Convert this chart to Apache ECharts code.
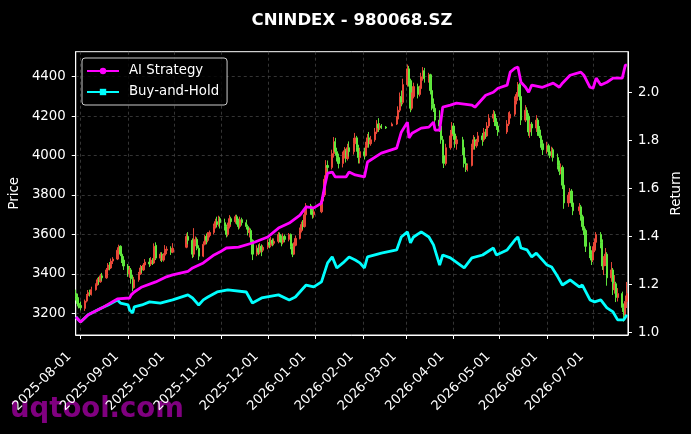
<!DOCTYPE html>
<html>
<head>
<meta charset="utf-8">
<script src="https://cdn.jsdelivr.net/npm/echarts@6/dist/echarts.min.js"></script>
<style>
html,body{margin:0;padding:0;background:#000;}
#chart{width:691px;height:434px;}
</style>
</head>
<body>
<div id="chart"></div>
<script>
// ---- DATA ----
const titleText = 'CNINDEX - 980068.SZ';
// [date, open, close, low, high]
const candles = [
['2025-07-29',3300,3280,3265,3320],['2025-07-30',3280,3250,3235,3300],['2025-07-31',3250,3240,3225,3270],['2025-08-01',3240,3228,3215,3260],
['2025-08-04',3225,3262,3212,3270],['2025-08-05',3262,3290,3255,3298],['2025-08-06',3290,3305,3280,3318],['2025-08-07',3305,3296,3285,3320],['2025-08-08',3296,3320,3290,3335],
['2025-08-11',3320,3345,3315,3352],['2025-08-12',3345,3370,3340,3380],['2025-08-13',3370,3360,3345,3385],['2025-08-14',3360,3390,3355,3400],['2025-08-15',3390,3380,3365,3405],
['2025-08-18',3380,3420,3375,3430],['2025-08-19',3420,3445,3410,3455],['2025-08-20',3445,3430,3418,3460],['2025-08-21',3430,3465,3425,3478],['2025-08-22',3465,3475,3450,3485],
['2025-08-25',3475,3520,3470,3535],['2025-08-26',3520,3540,3505,3548],['2025-08-27',3540,3500,3490,3545],['2025-08-28',3500,3470,3455,3510],['2025-08-29',3470,3440,3420,3490],
['2025-09-01',3440,3400,3385,3450],['2025-09-02',3400,3420,3380,3440],['2025-09-03',3420,3375,3350,3430],['2025-09-04',3375,3330,3312,3395],['2025-09-05',3330,3370,3325,3385],
['2025-09-08',3370,3400,3360,3410],['2025-09-09',3400,3430,3395,3445],['2025-09-10',3430,3420,3405,3440],['2025-09-11',3420,3445,3415,3455],['2025-09-12',3445,3460,3435,3475],
['2025-09-15',3460,3450,3435,3480],['2025-09-16',3450,3470,3440,3485],['2025-09-17',3470,3455,3445,3480],['2025-09-18',3455,3540,3450,3555],['2025-09-19',3545,3480,3470,3560],
['2025-09-22',3480,3500,3465,3510],['2025-09-23',3500,3470,3460,3510],['2025-09-24',3470,3495,3462,3505],['2025-09-25',3495,3520,3485,3546],['2025-09-26',3520,3525,3500,3540],
['2025-09-29',3525,3510,3496,3540],['2025-09-30',3510,3530,3505,3556],
['2025-10-09',3535,3590,3530,3605],['2025-10-10',3590,3570,3550,3612],
['2025-10-13',3570,3500,3480,3580],['2025-10-14',3500,3560,3485,3632],['2025-10-15',3560,3575,3540,3590],['2025-10-16',3575,3530,3520,3585],['2025-10-17',3530,3490,3470,3545],
['2025-10-20',3490,3550,3485,3565],['2025-10-21',3550,3590,3545,3597],['2025-10-22',3590,3570,3550,3605],['2025-10-23',3570,3595,3560,3612],['2025-10-24',3595,3610,3585,3620],
['2025-10-27',3610,3640,3600,3655],['2025-10-28',3640,3665,3630,3680],['2025-10-29',3665,3650,3635,3690],['2025-10-30',3650,3680,3640,3695],['2025-10-31',3680,3660,3630,3690],
['2025-11-03',3660,3640,3620,3680],['2025-11-04',3640,3600,3585,3650],['2025-11-05',3600,3640,3590,3660],['2025-11-06',3640,3680,3630,3698],['2025-11-07',3680,3665,3650,3690],
['2025-11-10',3665,3690,3655,3700],['2025-11-11',3690,3670,3650,3700],['2025-11-12',3670,3640,3625,3680],['2025-11-13',3640,3675,3630,3690],['2025-11-14',3675,3660,3645,3685],
['2025-11-17',3660,3640,3625,3675],['2025-11-18',3640,3610,3595,3650],['2025-11-19',3610,3620,3585,3635],['2025-11-20',3620,3570,3560,3630],['2025-11-21',3570,3500,3470,3575],
['2025-11-24',3500,3530,3490,3545],['2025-11-25',3530,3510,3495,3550],['2025-11-26',3510,3540,3500,3556],['2025-11-27',3540,3520,3490,3550],['2025-11-28',3520,3535,3510,3545],
['2025-12-01',3535,3560,3525,3575],['2025-12-02',3560,3545,3530,3580],['2025-12-03',3545,3570,3535,3587],['2025-12-04',3570,3555,3540,3580],['2025-12-05',3555,3565,3545,3580],
['2025-12-08',3565,3600,3555,3612],['2025-12-09',3600,3580,3560,3610],['2025-12-10',3580,3560,3540,3595],['2025-12-11',3560,3590,3550,3605],['2025-12-12',3590,3575,3560,3600],
['2025-12-15',3575,3600,3565,3607],['2025-12-16',3600,3540,3525,3605],['2025-12-17',3540,3500,3485,3555],['2025-12-18',3500,3545,3495,3560],['2025-12-19',3545,3580,3540,3595],
['2025-12-22',3580,3620,3575,3635],['2025-12-23',3620,3650,3610,3665],['2025-12-24',3650,3640,3625,3673],['2025-12-25',3640,3700,3635,3720],['2025-12-26',3700,3745,3690,3759],
['2025-12-29',3745,3720,3700,3755],['2025-12-30',3720,3700,3680,3739],['2025-12-31',3700,3715,3685,3730],
['2026-01-05',3715,3770,3708,3790],['2026-01-06',3770,3800,3755,3815],['2026-01-07',3800,3880,3790,3900],['2026-01-08',3880,3950,3860,3977],['2026-01-09',3950,3940,3910,3975],
['2026-01-12',3940,4010,3930,4030],['2026-01-13',4010,4070,3990,4094],['2026-01-14',4070,4020,4000,4090],['2026-01-15',4020,3990,3970,4040],['2026-01-16',3990,3960,3935,4010],
['2026-01-19',3960,4000,3940,4020],['2026-01-20',4000,4025,3985,4043],['2026-01-21',4025,3985,3965,4035],['2026-01-22',3985,4040,3975,4060],['2026-01-23',4040,4020,3995,4072],
['2026-01-26',4020,4060,4005,4090],['2026-01-27',4060,4090,4050,4115],['2026-01-28',4090,4040,4020,4100],['2026-01-29',4040,3990,3960,4055],['2026-01-30',3990,4020,3960,4040],
['2026-02-02',4020,4000,3980,4040],['2026-02-03',4000,4050,3995,4070],['2026-02-04',4050,4090,4040,4110],['2026-02-05',4090,4060,4040,4120],['2026-02-06',4060,4080,4050,4100],
['2026-02-09',4080,4120,4070,4140],['2026-02-10',4120,4160,4110,4180],['2026-02-11',4160,4140,4120,4190],['2026-02-12',4140,4150,4130,4165],['2026-02-13',4150,4145,4135,4160],
['2026-02-16',4145,4140,4135,4150],['2026-02-20',4150,4160,4150,4168],['2026-02-23',4160,4185,4155,4200],
['2026-02-24',4185,4230,4180,4250],['2026-02-25',4230,4300,4220,4320],['2026-02-26',4300,4270,4250,4330],['2026-02-27',4270,4360,4260,4390],
['2026-03-02',4360,4440,4350,4462],['2026-03-03',4440,4380,4350,4455],['2026-03-04',4380,4240,4220,4390],['2026-03-05',4240,4300,4230,4320],['2026-03-06',4300,4350,4290,4370],
['2026-03-09',4350,4310,4290,4365],['2026-03-10',4310,4340,4300,4355],['2026-03-11',4340,4400,4330,4420],['2026-03-12',4400,4430,4380,4449],['2026-03-13',4430,4390,4370,4445],
['2026-03-16',4390,4410,4370,4420],['2026-03-17',4410,4330,4310,4415],['2026-03-18',4330,4260,4230,4345],['2026-03-19',4260,4240,4221,4290],['2026-03-20',4240,4180,4160,4260],
['2026-03-23',4180,4150,4120,4230],['2026-03-24',4150,4080,4060,4160],['2026-03-25',4080,4000,3960,4100],['2026-03-26',4000,3960,3937,4050],['2026-03-27',3960,4040,3950,4060],
['2026-03-30',4040,4100,4030,4130],['2026-03-31',4100,4150,4080,4170],['2026-04-01',4150,4110,4080,4165],['2026-04-02',4110,4060,4040,4120],['2026-04-03',4060,4080,4030,4100],
['2026-04-07',4080,4040,4003,4095],['2026-04-08',4040,3960,3940,4060],['2026-04-09',3960,3930,3917,3990],['2026-04-10',3930,3950,3920,3960],
['2026-04-13',3950,4040,3945,4060],['2026-04-14',4040,4080,4030,4104],['2026-04-15',4080,4050,4030,4095],['2026-04-16',4050,4070,4040,4085],['2026-04-17',4070,4100,4060,4120],
['2026-04-20',4100,4080,4050,4115],['2026-04-21',4080,4120,4070,4140],['2026-04-22',4120,4100,4085,4135],['2026-04-23',4100,4150,4095,4170],['2026-04-24',4150,4190,4140,4210],
['2026-04-27',4190,4210,4170,4231],['2026-04-28',4210,4170,4150,4225],['2026-04-29',4170,4150,4130,4190],['2026-04-30',4150,4120,4100,4170],
['2026-05-06',4120,4160,4110,4180],['2026-05-07',4160,4190,4150,4220],['2026-05-08',4190,4210,4180,4225],
['2026-05-11',4210,4280,4200,4300],['2026-05-12',4280,4310,4260,4322],['2026-05-13',4310,4350,4290,4373],['2026-05-14',4360,4300,4280,4370],['2026-05-15',4300,4180,4155,4310],
['2026-05-18',4180,4230,4170,4256],['2026-05-19',4230,4200,4180,4245],['2026-05-20',4200,4120,4100,4215],['2026-05-21',4120,4160,4090,4180],['2026-05-22',4160,4140,4100,4170],
['2026-05-25',4140,4180,4120,4205],['2026-05-26',4180,4130,4100,4190],['2026-05-27',4130,4100,4089,4150],['2026-05-28',4100,4060,4040,4120],['2026-05-29',4060,4030,4003,4080],
['2026-06-01',4030,4050,4010,4070],['2026-06-02',4050,4020,4000,4060],['2026-06-03',4020,4000,3987,4040],['2026-06-04',4000,4030,3990,4045],['2026-06-05',4030,3990,3970,4040],
['2026-06-08',3990,3950,3930,4010],['2026-06-09',3950,3920,3901,3975],['2026-06-10',3920,3940,3905,3960],['2026-06-11',3940,3850,3830,3950],['2026-06-12',3850,3760,3730,3870],
['2026-06-15',3760,3800,3740,3815],['2026-06-16',3800,3820,3780,3835],['2026-06-17',3820,3760,3740,3830],['2026-06-18',3760,3720,3698,3780],
['2026-06-22',3720,3740,3700,3759],['2026-06-23',3740,3690,3670,3750],['2026-06-24',3690,3640,3620,3700],['2026-06-25',3640,3620,3597,3660],['2026-06-26',3620,3540,3511,3630],
['2026-06-29',3540,3500,3480,3560],['2026-06-30',3500,3470,3445,3520],['2026-07-01',3470,3520,3460,3540],['2026-07-02',3520,3560,3510,3580],['2026-07-03',3560,3600,3540,3612],
['2026-07-06',3600,3560,3530,3612],['2026-07-07',3560,3440,3420,3575],['2026-07-08',3440,3470,3394,3490],['2026-07-09',3470,3500,3440,3531],['2026-07-10',3500,3380,3340,3510],
['2026-07-13',3380,3420,3360,3460],['2026-07-14',3420,3320,3293,3430],['2026-07-15',3320,3350,3300,3394],['2026-07-16',3350,3280,3257,3360],['2026-07-17',3280,3300,3260,3328],
['2026-07-20',3300,3230,3207,3310],['2026-07-21',3230,3190,3158,3250],['2026-07-22',3190,3260,3180,3290],['2026-07-23',3260,3300,3227,3359]
];
const aiStrategy = [
['2025-07-29',1.065],['2025-08-01',1.044],['2025-08-06',1.074],['2025-08-15',1.103],['2025-08-25',1.14],['2025-09-02',1.144],['2025-09-03',1.157],['2025-09-05',1.169],
['2025-09-10',1.19],['2025-09-19',1.211],['2025-09-26',1.232],['2025-09-30',1.24],['2025-10-10',1.255],['2025-10-13',1.269],['2025-10-20',1.29],['2025-10-27',1.323],
['2025-10-31',1.336],['2025-11-04',1.352],['2025-11-12',1.356],['2025-11-21',1.373],['2025-12-01',1.398],['2025-12-08',1.435],['2025-12-15',1.456],['2025-12-22',1.489],
['2025-12-26',1.523],['2025-12-31',1.519],['2026-01-05',1.539],['2026-01-07',1.606],['2026-01-09',1.664],['2026-01-12',1.668],['2026-01-14',1.648],['2026-01-21',1.648],
['2026-01-23',1.668],['2026-01-27',1.656],['2026-02-02',1.648],['2026-02-04',1.71],['2026-02-13',1.747],['2026-02-23',1.768],['2026-02-26',1.834],['2026-03-02',1.876],
['2026-03-03',1.81],['2026-03-05',1.83],['2026-03-11',1.851],['2026-03-16',1.855],['2026-03-19',1.876],['2026-03-20',1.843],['2026-03-23',1.843],['2026-03-25',1.938],
['2026-03-30',1.947],['2026-04-03',1.955],['2026-04-13',1.947],['2026-04-15',1.938],['2026-04-22',1.988],['2026-04-27',2.0],['2026-04-30',2.017],['2026-05-06',2.03],
['2026-05-08',2.084],['2026-05-11',2.1],['2026-05-13',2.105],['2026-05-15',2.042],['2026-05-18',2.021],['2026-05-20',2.0],['2026-05-22',2.03],['2026-05-29',2.021],
['2026-06-05',2.038],['2026-06-09',2.021],['2026-06-11',2.038],['2026-06-16',2.071],['2026-06-23',2.084],['2026-06-25',2.071],['2026-06-29',2.021],['2026-07-01',2.017],
['2026-07-03',2.059],['2026-07-06',2.03],['2026-07-10',2.042],['2026-07-14',2.059],['2026-07-20',2.059],['2026-07-22',2.113],['2026-07-23',2.113]
];
const buyAndHold = [
['2025-07-29',1.065],['2025-08-01',1.044],['2025-08-06',1.074],['2025-08-15',1.103],['2025-08-19',1.115],['2025-08-25',1.136],['2025-08-27',1.123],['2025-09-01',1.115],
['2025-09-02',1.094],['2025-09-04',1.082],['2025-09-05',1.107],['2025-09-10',1.115],['2025-09-15',1.128],['2025-09-22',1.123],['2025-09-25',1.128],['2025-09-30',1.136],
['2025-10-10',1.157],['2025-10-13',1.144],['2025-10-17',1.115],['2025-10-20',1.136],['2025-10-23',1.148],['2025-10-29',1.169],['2025-11-05',1.178],['2025-11-17',1.169],
['2025-11-21',1.123],['2025-11-27',1.144],['2025-12-08',1.157],['2025-12-15',1.136],['2025-12-19',1.148],['2025-12-26',1.198],['2025-12-31',1.19],['2026-01-05',1.211],
['2026-01-09',1.29],['2026-01-12',1.315],['2026-01-15',1.269],['2026-01-19',1.29],['2026-01-23',1.315],['2026-01-27',1.302],['2026-01-30',1.29],['2026-02-02',1.269],
['2026-02-04',1.315],['2026-02-13',1.331],['2026-02-23',1.344],['2026-02-26',1.398],['2026-03-02',1.419],['2026-03-04',1.373],['2026-03-06',1.398],['2026-03-11',1.419],
['2026-03-16',1.398],['2026-03-19',1.365],['2026-03-23',1.281],['2026-03-25',1.323],['2026-03-30',1.311],['2026-04-08',1.269],['2026-04-13',1.311],['2026-04-20',1.323],
['2026-04-27',1.352],['2026-04-29',1.323],['2026-04-30',1.331],['2026-05-06',1.344],['2026-05-11',1.385],['2026-05-13',1.398],['2026-05-15',1.352],['2026-05-19',1.344],
['2026-05-22',1.315],['2026-05-25',1.331],['2026-06-01',1.281],['2026-06-04',1.273],['2026-06-08',1.232],['2026-06-11',1.198],['2026-06-16',1.219],['2026-06-22',1.19],
['2026-06-24',1.198],['2026-06-29',1.136],['2026-07-02',1.128],['2026-07-06',1.136],['2026-07-10',1.103],['2026-07-14',1.086],['2026-07-17',1.053],['2026-07-21',1.053],
['2026-07-23',1.074]
];
const monthTicks = ['2025-08-01','2025-09-01','2025-10-01','2025-11-01','2025-12-01','2026-01-01','2026-02-01','2026-03-01','2026-04-01','2026-05-01','2026-06-01','2026-07-01'];
const priceTicks = [3200,3400,3600,3800,4000,4200,4400];
const returnTicks = [1.0,1.2,1.4,1.6,1.8,2.0];

// ---- CHART ----
const FONT = 'DejaVu Sans';
const toTs = s => { const p = s.split('-').map(Number); return Date.UTC(p[0], p[1] - 1, p[2]); };
const fmtDate = v => { const d = new Date(v + 12 * 3600e3); const m = d.getUTCMonth() + 1, dd = d.getUTCDate();
  return d.getUTCFullYear() + '-' + (m < 10 ? '0' : '') + m + '-' + (dd < 10 ? '0' : '') + dd; };
const monthTs = monthTicks.map(toTs);
const candleData = candles.map(r => [toTs(r[0]), r[1], r[2], r[3], r[4]]);
const aiData = aiStrategy.map(r => [toTs(r[0]), r[1]]);
const bhData = buyAndHold.map(r => [toTs(r[0]), r[1]]);

const chart = echarts.init(document.getElementById('chart'), null, {renderer:'canvas'});
const UP = '#ef4a3a', DOWN = '#62ee3e';
const option = {
  backgroundColor: '#000000',
  animation: false,
  textStyle: {fontFamily: FONT},
  title: {
    text: titleText, left: 347, top: 7, textAlign: 'center',
    textStyle: {color: '#ffffff', fontSize: 16.5, fontWeight: 'bold', fontFamily: FONT}
  },
  legend: {
    orient: 'vertical', left: 82, top: 58,
    padding: [5, 8, 5, 4], itemGap: 5,
    itemWidth: 32, itemHeight: 8,
    backgroundColor: 'rgba(0,0,0,0.8)', borderColor: '#cccccc', borderWidth: 1, borderRadius: 3,
    textStyle: {color: '#ffffff', fontSize: 13.3, fontFamily: FONT, padding: [0, 0, 0, 5], lineHeight: 16},
    data: ['AI Strategy', 'Buy-and-Hold']
  },
  grid: {left: 75.4, right: 61.5, top: 51.7, bottom: 99, show: true, borderColor: '#ffffff', borderWidth: 1, backgroundColor: 'transparent'},
  xAxis: {
    type: 'value',
    min: toTs('2025-07-28') + 21 * 3600e3,
    max: toTs('2026-07-23') + 17 * 3600e3,
    axisLine: {show: true, onZero: false, lineStyle: {color: '#ffffff'}},
    axisTick: {show: true, length: 4, lineStyle: {color: '#ffffff'}, customValues: monthTs},
    axisLabel: {
      customValues: monthTs, rotate: 45, margin: 8, color: '#ffffff', fontSize: 13.2, fontFamily: FONT,
      padding: [0, 16, 0, 0],
      formatter: v => fmtDate(v)
    },
    splitLine: {show: true, lineStyle: {color: '#4a4a4a', type: [3, 3], width: 0.7}}
  },
  yAxis: [
    {
      type: 'value', min: 3090, max: 4527, position: 'left',
      name: 'Price', nameLocation: 'middle', nameGap: 47,
      nameTextStyle: {color: '#ffffff', fontSize: 13.3, fontFamily: FONT},
      axisLine: {show: true, onZero: false, lineStyle: {color: '#ffffff'}},
      axisTick: {show: true, length: 4, lineStyle: {color: '#ffffff'}, customValues: priceTicks},
      axisLabel: {customValues: priceTicks, color: '#ffffff', fontSize: 13.3, margin: 10, fontFamily: FONT,
        formatter: v => String(Math.round(v))},
      splitLine: {show: true, lineStyle: {color: '#4a4a4a', type: [3, 3], width: 0.7}}
    },
    {
      type: 'value', min: 0.99, max: 2.169, position: 'right',
      name: 'Return', nameLocation: 'middle', nameGap: 35,
      nameTextStyle: {color: '#ffffff', fontSize: 13.3, fontFamily: FONT},
      axisLine: {show: true, onZero: false, lineStyle: {color: '#ffffff'}},
      axisTick: {show: true, length: 4, lineStyle: {color: '#ffffff'}, customValues: returnTicks},
      axisLabel: {customValues: returnTicks, color: '#ffffff', fontSize: 13.3, margin: 10, fontFamily: FONT,
        formatter: v => Number(v).toFixed(1)},
      splitLine: {show: false}
    }
  ],
  series: [
    {
      type: 'candlestick', name: 'Price', xAxisIndex: 0, yAxisIndex: 0,
      data: candleData, encode: {x: 0, y: [1, 2, 3, 4]},
      barWidth: 1.8, z: 2,
      itemStyle: {color: UP, color0: DOWN, borderColor: UP, borderColor0: DOWN, borderWidth: 1, opacity: 0.95}
    },
    {
      type: 'line', name: 'AI Strategy', yAxisIndex: 1, data: aiData,
      symbol: 'circle', symbolSize: 5, showSymbol: false, z: 5,
      lineStyle: {color: '#ff00ff', width: 2.8}, itemStyle: {color: '#ff00ff'}
    },
    {
      type: 'line', name: 'Buy-and-Hold', yAxisIndex: 1, data: bhData,
      symbol: 'rect', symbolSize: 5, showSymbol: false, z: 4,
      lineStyle: {color: '#00ffff', width: 2.8}, itemStyle: {color: '#00ffff'}
    }
  ],
  graphic: [{
    type: 'text', left: 10, top: 396, silent: true,
    style: {text: 'uqtool.com', fill: '#800080', font: 'bold 27.5px "DejaVu Sans"'}
  }]
};
chart.setOption(option);
</script>
</body>
</html>
